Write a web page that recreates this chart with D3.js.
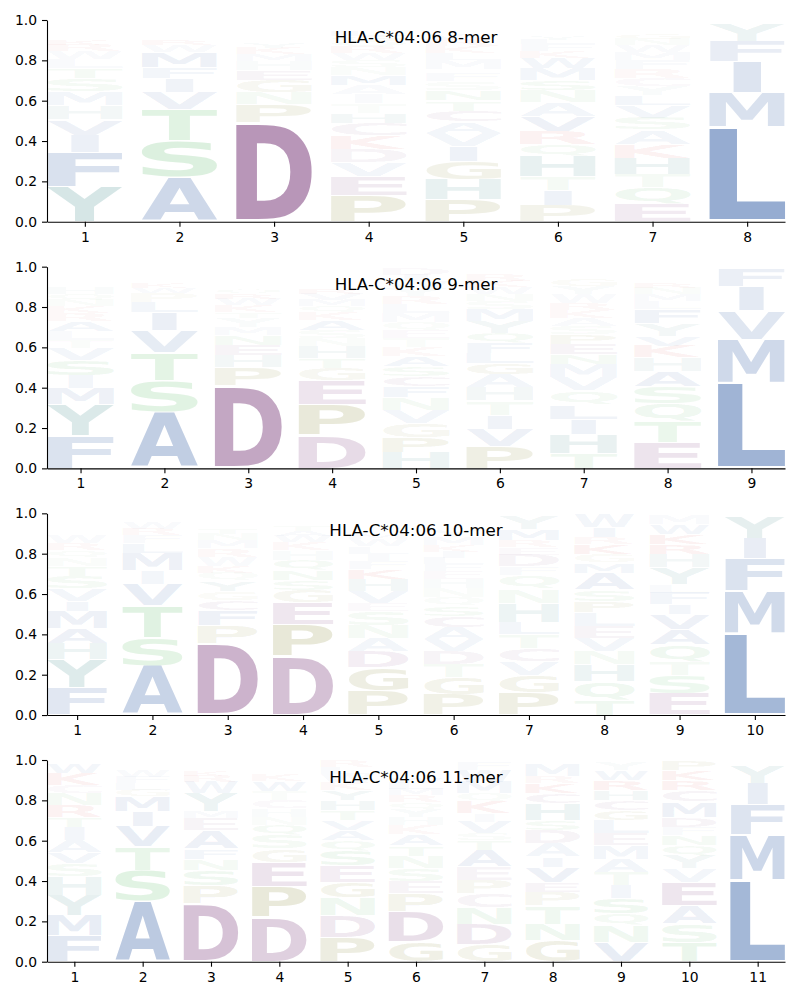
<!DOCTYPE html>
<html><head><meta charset="utf-8">
<script src="https://cdn.jsdelivr.net/npm/d3@7"></script>
<style>body{margin:0;background:#fff}</style>
</head><body><svg id="c" width="800" height="1000"></svg>
<script>
const titles = ["HLA-C*04:06 8-mer","HLA-C*04:06 9-mer","HLA-C*04:06 10-mer","HLA-C*04:06 11-mer"];
const yTicks = [0, 0.2, 0.4, 0.6, 0.8, 1.0];

// each position: letters listed bottom -> top with their frequency
const logo8 = [
 [["Y",.175],["F",.17],["I",.085],["V",.075],["H",.07],["M",.07],["S",.065],["T",.05],["L",.045],["W",.04],["R",.03],["K",.025],["A",.02],["N",.015],["E",.012],["G",.01],["Q",.01],["P",.008],["D",.008]],
 [["A",.22],["S",.18],["T",.155],["V",.085],["I",.07],["F",.055],["M",.075],["W",.035],["R",.025],["Q",.02],["K",.015],["Y",.012],["N",.01],["E",.01],["G",.008],["H",.008],["P",.006]],
 [["D",.49],["P",.09],["N",.06],["G",.06],["E",.05],["H",.045],["M",.035],["K",.03],["Y",.025],["R",.02],["S",.02],["Q",.015],["T",.015],["A",.012],["W",.01],["V",.008],["L",.006]],
 [["P",.13],["E",.095],["V",.07],["D",.065],["K",.07],["C",.06],["H",.05],["T",.045],["I",.045],["A",.045],["M",.05],["N",.04],["S",.035],["W",.035],["R",.03],["Q",.03],["G",.025],["L",.025],["Y",.02],["F",.015]],
 [["P",.11],["H",.10],["G",.09],["I",.075],["V",.065],["A",.055],["C",.055],["T",.05],["N",.05],["S",.045],["F",.04],["E",.02],["M",.045],["L",.035],["K",.035],["R",.035],["W",.025],["Q",.02],["Y",.015],["D",.012]],
 [["P",.083],["I",.075],["T",.065],["H",.10],["Q",.06],["R",.065],["V",.075],["A",.07],["N",.058],["S",.052],["M",.058],["W",.052],["K",.035],["F",.03],["L",.023],["Y",.023],["E",.017],["G",.014],["D",.012],["C",.009]],
 [["E",.09],["Q",.08],["T",.065],["H",.08],["K",.07],["A",.07],["S",.06],["V",.06],["L",.05],["Y",.045],["C",.04],["R",.045],["F",.045],["M",.04],["W",.035],["N",.03],["G",.025],["I",.02],["P",.015],["D",.01]],
 [["L",.47],["M",.17],["I",.155],["F",.1],["Y",.085],["V",.01]]
];
const logo9 = [
 [["F",.16],["Y",.155],["M",.08],["I",.065],["S",.075],["V",.06],["T",.04],["L",.045],["A",.05],["R",.04],["K",.035],["N",.03],["Q",.03],["H",.03],["E",.02],["W",.02],["G",.015],["P",.01],["D",.01]],
 [["A",.28],["S",.155],["T",.14],["V",.11],["I",.09],["L",.05],["P",.045],["W",.025],["K",.025],["M",.02],["Y",.02],["Q",.015],["G",.01],["N",.01]],
 [["D",.41],["P",.09],["H",.06],["E",.05],["N",.05],["M",.04],["Y",.045],["T",.03],["K",.035],["W",.03],["R",.025],["Q",.025],["G",.02],["A",.02],["V",.02],["L",.015],["F",.015],["C",.005],["I",.005]],
 [["D",.165],["P",.15],["E",.12],["G",.06],["T",.05],["H",.06],["N",.04],["S",.04],["A",.05],["K",.04],["Q",.03],["M",.03],["V",.03],["R",.025],["W",.02],["L",.02],["Y",.015],["F",.01],["I",.01],["C",.01]],
 [["H",.08],["P",.075],["G",.07],["V",.065],["N",.06],["F",.055],["C",.05],["S",.05],["A",.05],["K",.045],["T",.045],["E",.04],["Q",.04],["M",.045],["L",.045],["R",.04],["Y",.04],["W",.035],["I",.03],["D",.03]],
 [["P",.11],["V",.085],["I",.07],["T",.07],["H",.065],["A",.065],["G",.055],["L",.05],["F",.05],["Q",.05],["Y",.06],["M",.06],["S",.04],["N",.035],["W",.035],["K",.03],["R",.03],["E",.02],["D",.015]],
 [["T",.075],["H",.095],["I",.075],["L",.07],["Q",.07],["V",.065],["M",.065],["N",.05],["E",.05],["P",.05],["S",.04],["A",.04],["K",.04],["R",.035],["W",.045],["Y",.04],["G",.035],["F",.02],["C",.015],["D",.01]],
 [["E",.127],["T",.105],["Q",.09],["S",.083],["A",.074],["H",.07],["K",.058],["V",.05],["Y",.06],["F",.07],["L",.04],["M",.035],["N",.03],["R",.025],["G",.02],["P",.015],["W",.015],["C",.01]],
 [["L",.425],["M",.215],["V",.14],["I",.12],["F",.09]]
];
const logo10 = [
 [["F",.135],["Y",.14],["H",.08],["A",.075],["M",.085],["I",.05],["V",.06],["S",.065],["T",.05],["N",.04],["Q",.035],["R",.035],["W",.04],["E",.02],["G",.02],["P",.015],["D",.015],["L",.02],["C",.01]],
 [["A",.245],["S",.14],["T",.16],["V",.105],["I",.065],["M",.085],["L",.05],["F",.04],["R",.03],["W",.03],["K",.015],["G",.015],["Y",.01],["Q",.01]],
 [["D",.355],["P",.09],["F",.075],["C",.05],["G",.045],["Y",.05],["Q",.04],["K",.035],["W",.045],["R",.04],["M",.04],["N",.03],["T",.025],["A",.02],["V",.02],["L",.015],["I",.01]],
 [["D",.29],["P",.16],["E",.11],["G",.06],["S",.05],["N",.05],["Q",.05],["H",.045],["K",.04],["W",.03],["A",.025],["T",.025],["R",.015],["V",.015],["Y",.01],["L",.01],["F",.005],["I",.005]],
 [["P",.12],["G",.115],["D",.08],["A",.065],["N",.065],["S",.07],["E",.04],["V",.06],["H",.06],["K",.05],["F",.04],["I",.035],["L",.035],["W",.035],["M",.025],["R",.02],["T",.02],["Q",.015],["Y",.015],["C",.01]],
 [["P",.1],["G",.085],["T",.065],["D",.065],["V",.06],["A",.06],["C",.055],["S",.05],["Q",.045],["N",.045],["H",.045],["E",.04],["F",.035],["L",.03],["I",.03],["K",.03],["M",.04],["Y",.03],["R",.02],["W",.02]],
 [["P",.11],["G",.085],["V",.07],["C",.065],["T",.07],["L",.06],["H",.095],["N",.07],["Q",.07],["F",.04],["D",.06],["E",.035],["R",.035],["M",.055],["Y",.065]],
 [["T",.075],["Q",.091],["H",.083],["N",.066],["V",.066],["E",.059],["L",.067],["P",.057],["S",.058],["A",.083],["M",.05],["G",.041],["K",.05],["R",.033],["I",.05],["W",.066]],
 [["E",.108],["S",.091],["T",.065],["Q",.084],["A",.075],["V",.075],["I",.05],["F",.058],["L",.042],["Y",.083],["H",.066],["R",.05],["K",.05],["W",.05],["M",.045]],
 [["L",.405],["M",.21],["F",.16],["I",.1],["Y",.11]]
];
const logo11 = [
 [["F",.13],["M",.1],["Y",.1],["H",.092],["S",.066],["V",.055],["A",.06],["I",.065],["T",.05],["R",.058],["N",.058],["C",.041],["K",.058],["W",.05]],
 [["A",.3],["S",.153],["T",.116],["V",.1],["I",.075],["M",.075],["G",.033],["L",.033],["F",.03],["W",.03],["K",.02],["Y",.015],["R",.01]],
 [["D",.287],["P",.091],["S",.075],["N",.057],["F",.05],["A",.092],["E",.058],["M",.033],["Y",.091],["W",.058],["R",.03],["K",.025],["L",.02],["G",.015],["Q",.01]],
 [["D",.22],["P",.15],["E",.124],["G",.066],["S",.067],["Q",.05],["N",.04],["H",.042],["C",.04],["T",.045],["W",.05],["K",.033],["R",.02],["Y",.015],["A",.015],["M",.015]],
 [["P",.121],["D",.108],["N",.091],["G",.075],["E",.083],["S",.074],["Q",.05],["A",.05],["V",.05],["T",.05],["H",.05],["Y",.05],["K",.04],["W",.04],["L",.035],["R",.03]],
 [["G",.1],["D",.15],["P",.09],["E",.06],["S",.065],["N",.06],["T",.05],["A",.055],["K",.045],["H",.04],["Y",.04],["Q",.035],["R",.035],["M",.03],["L",.03],["W",.025],["V",.02],["F",.02]],
 [["G",.086],["D",.101],["N",.083],["C",.067],["P",.066],["E",.067],["A",.082],["T",.05],["S",.033],["V",.058],["I",.042],["K",.058],["Q",.041],["M",.058],["W",.058],["F",.04]],
 [["G",.104],["N",.083],["T",.092],["P",.066],["E",.05],["V",.075],["I",.05],["A",.065],["D",.067],["S",.05],["H",.083],["C",.05],["K",.05],["R",.035],["M",.06]],
 [["V",.096],["N",.083],["Q",.058],["S",.075],["I",.066],["T",.066],["A",.066],["M",.067],["E",.058],["L",.066],["G",.05],["C",.05],["H",.05],["R",.049],["W",.05],["Y",.04]],
 [["T",.096],["S",.091],["A",.092],["E",.116],["V",.066],["Y",.066],["Q",.05],["N",.05],["F",.041],["D",.05],["M",.075],["C",.058],["R",.049],["K",.05],["P",.05]],
 [["L",.405],["M",.225],["F",.15],["I",.105],["Y",.09]]
];
const logos = [logo8, logo9, logo10, logo11];

const colorOf = {};
"AVLIMFW".split("").forEach(c => colorOf[c] = "#4c72b0");
"YH".split("").forEach(c => colorOf[c] = "#468c8c");
"STNQ".split("").forEach(c => colorOf[c] = "#64be6e");
"DEC".split("").forEach(c => colorOf[c] = "#8b538b");
"PG".split("").forEach(c => colorOf[c] = "#8c8c3c");
"KR".split("").forEach(c => colorOf[c] = "#d23232");

const FS = 100, FONT = '"DejaVu Sans"';
const ctx = document.createElement("canvas").getContext("2d");
ctx.font = `bold ${FS}px ${FONT}`;
const metrics = {};
function met(ch) {
  if (!metrics[ch]) {
    const t = ctx.measureText(ch);
    metrics[ch] = {l: t.actualBoundingBoxLeft, r: t.actualBoundingBoxRight,
                   a: t.actualBoundingBoxAscent, d: t.actualBoundingBoxDescent};
  }
  return metrics[ch];
}
const eW = met("E").l + met("E").r;

const svg = d3.select("#c");
const left = 47, right = 785, width = 0.8, vpad = 0.05;

logos.forEach((logo, i) => {
  const top = 20 + i * 246.67, bottom = top + 201.7;
  const n = logo.length;
  const positions = d3.range(1, n + 1);
  const x = d3.scaleLinear().domain([0.6, n + 0.4]).range([left, right]);
  const y = d3.scaleLinear().domain([0, 1]).range([bottom, top]);
  const g = svg.append("g");
  const lg = g.append("g");
  logo.forEach((stack, j) => {
    const pos = positions[j];
    let cum = 0;
    stack.forEach(([ch, h]) => {
      const m = met(ch);
      const inkW = m.l + m.r, inkH = m.a + m.d;
      const x0 = x(pos - width / 2), x1 = x(pos + width / 2), bw = x1 - x0;
      const gyTop = y(cum + h - vpad * h / 2), gyBot = y(cum + vpad * h / 2);
      const gh = gyBot - gyTop;
      const sx = bw / Math.max(inkW, eW);
      const sy = gh / inkH;
      const gx = x0 + (bw - inkW * sx) / 2;
      const alpha = Math.min(1, 1.25 * h);
      lg.append("text")
        .attr("x", 0).attr("y", 0)
        .attr("font-family", FONT).attr("font-weight", "bold").attr("font-size", FS)
        .attr("fill", colorOf[ch]).attr("fill-opacity", alpha)
        .attr("transform", `translate(${gx},${gyTop}) scale(${sx},${sy}) translate(${m.l},${m.a})`)
        .text(ch);
      cum += h;
    });
  });
  const ax = g.append("g").attr("transform", `translate(0,${bottom})`)
    .call(d3.axisBottom(x).tickValues(positions).tickFormat(d3.format("d")).tickSize(5).tickPadding(5).tickSizeOuter(0));
  const ay = g.append("g").attr("transform", `translate(${left},0)`)
    .call(d3.axisLeft(y).tickValues(yTicks).tickFormat(d3.format(".1f")).tickSize(5).tickPadding(5).tickSizeOuter(0));
  [ax, ay].forEach(a => {
    a.attr("font-family", "DejaVu Sans").attr("font-size", 13.9);
    a.selectAll("path,line").attr("stroke", "#000").attr("stroke-width", 1.1);
  });
  g.append("text").attr("x", (left + right) / 2).attr("y", top + 23)
    .attr("text-anchor", "middle").attr("font-family", "DejaVu Sans").attr("font-size", 16.7)
    .attr("fill", "#000").text(titles[i]);
});
</script>
</body></html>
